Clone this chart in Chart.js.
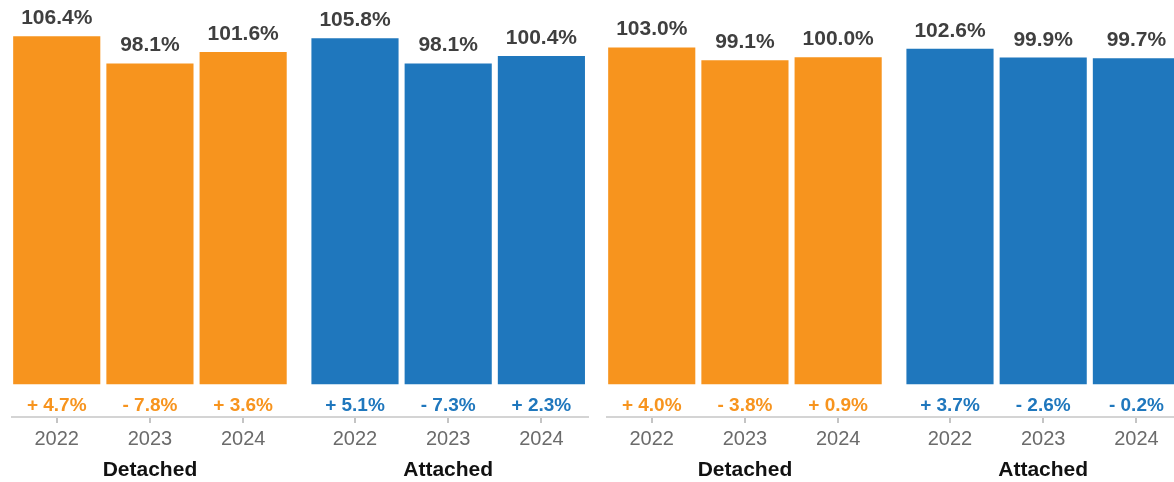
<!DOCTYPE html>
<html>
<head>
<meta charset="utf-8">
<script src="https://cdn.jsdelivr.net/npm/chart.js@4/dist/chart.umd.min.js"></script>
<style>
  html, body { margin: 0; padding: 0; background: #fff; overflow: hidden; }
  #wrap { display: flex; width: 1190px; height: 482px; }
  canvas { display: block; }
</style>
</head>
<body>
<div id="wrap">
  <canvas id="left" width="595" height="482"></canvas>
  <canvas id="right" width="595" height="482"></canvas>
</div>
<script>
// chart data
const years = ['2022', '2023', '2024'];
const groups = ['Detached', 'Attached'];

const leftDetached = [106.4, 98.1, 101.6];
const leftAttached = [105.8, 98.1, 100.4];
const leftDetachedChange = [4.7, -7.8, 3.6];
const leftAttachedChange = [5.1, -7.3, 2.3];

const rightDetached = [103.0, 99.1, 100.0];
const rightAttached = [102.6, 99.9, 99.7];
const rightDetachedChange = [4.0, -3.8, 0.9];
const rightAttachedChange = [3.7, -2.6, -0.2];

const orange = '#f7941e';
const blue = '#1f77bd';
const GROUP_STEP = 3.2; // spacing between group starts, in bar slots

Chart.defaults.font.family = '"Liberation Sans", Arial, sans-serif';

function slot(g, i) {
  return g * GROUP_STEP + i;
}

const tickPositions = [];
groups.forEach((g, gi) => years.forEach((y, yi) => tickPositions.push(slot(gi, yi))));

function fmtChange(v) {
  return (v < 0 ? '- ' : '+ ') + Math.abs(v).toFixed(1) + '%';
}

const labelPlugin = {
  id: 'barLabels',
  afterDatasetsDraw(chart) {
    const ctx = chart.ctx;
    const area = chart.chartArea;
    ctx.save();
    ctx.textAlign = 'center';
    chart.data.datasets.forEach((ds, di) => {
      const meta = chart.getDatasetMeta(di);
      meta.data.forEach((bar, i) => {
        // value on top
        ctx.font = 'bold 21px "Liberation Sans", Arial, sans-serif';
        ctx.fillStyle = '#3f3f3f';
        ctx.textBaseline = 'alphabetic';
        ctx.fillText(ds.data[i].y.toFixed(1) + '%', bar.x, bar.y - 12);
        // change under bar
        ctx.font = 'bold 19px "Liberation Sans", Arial, sans-serif';
        ctx.fillStyle = ds.backgroundColor;
        ctx.textBaseline = 'middle';
        ctx.fillText(fmtChange(ds.changes[i]), bar.x, area.bottom - 11);
      });
      // group name under the middle bar
      const mid = meta.data[1];
      ctx.font = 'bold 21px "Liberation Sans", Arial, sans-serif';
      ctx.fillStyle = '#111';
      ctx.textBaseline = 'middle';
      ctx.fillText(groups[di], mid.x, area.bottom + 53);
    });
    ctx.restore();
  }
};

function makeChart(id, detached, attached, detachedChange, attachedChange) {
  const toPoints = (vals, g) => vals.map((v, i) => ({ x: slot(g, i), y: v }));
  new Chart(document.getElementById(id), {
    type: 'bar',
    data: {
      datasets: [
        { label: groups[0], data: toPoints(detached, 0), changes: detachedChange, backgroundColor: orange },
        { label: groups[1], data: toPoints(attached, 1), changes: attachedChange, backgroundColor: blue }
      ]
    },
    options: {
      responsive: false,
      animation: false,
      grouped: false,
      categoryPercentage: 1,
      barPercentage: 0.935,
      layout: { padding: { left: 12, right: 7, top: 0, bottom: 27 } },
      plugins: { legend: { display: false }, tooltip: { enabled: false } },
      scales: {
        x: {
          type: 'linear',
          offset: false,
          min: -0.48,
          max: 5.7,
          afterBuildTicks: (axis) => {
            axis.ticks = tickPositions.map(v => ({ value: v }));
          },
          ticks: {
            autoSkip: false,
            maxRotation: 0,
            padding: 4,
            color: '#6b6b6b',
            font: { size: 20 },
            callback: (value, index) => years[index % years.length]
          },
          grid: {
            offset: false,
            drawOnChartArea: false,
            drawTicks: true,
            tickLength: 6,
            color: '#c4c4c4',
            tickColor: '#c4c4c4',
            tickWidth: 2,
            lineWidth: 2
          },
          border: { display: true, color: '#d4d4d4', width: 2 }
        },
        y: {
          display: false,
          min: -10,
          max: 117.5
        }
      }
    },
    plugins: [labelPlugin]
  });
}

makeChart('left', leftDetached, leftAttached, leftDetachedChange, leftAttachedChange);
makeChart('right', rightDetached, rightAttached, rightDetachedChange, rightAttachedChange);
</script>
</body>
</html>
